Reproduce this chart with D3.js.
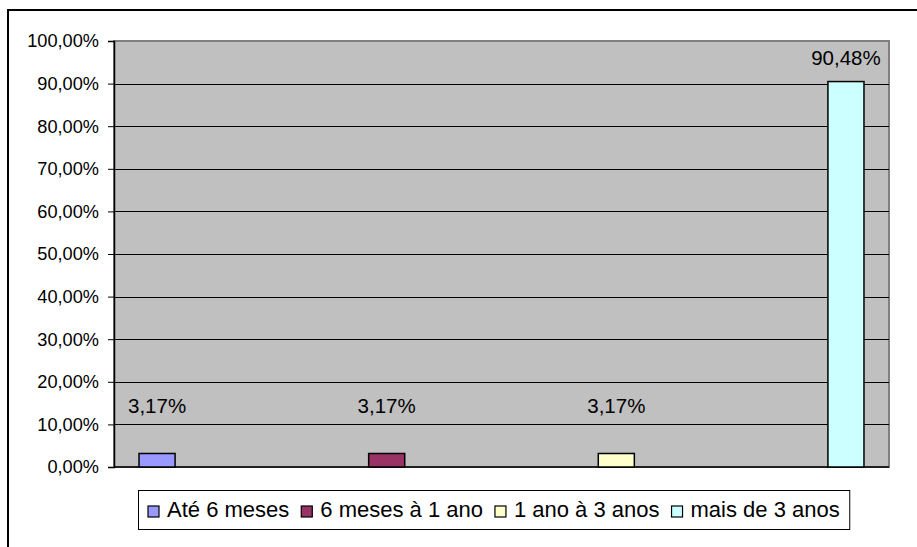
<!DOCTYPE html>
<html>
<head>
<meta charset="utf-8">
<script src="https://cdn.jsdelivr.net/npm/d3@7"></script>
<style>
  body { margin: 0; background: #fff; overflow: hidden; }
  text { font-family: "Liberation Sans", Arial, sans-serif; fill: #000; }
</style>
</head>
<body>
<svg id="chart" width="917" height="547"></svg>
<script>
//----------------------------------------------------------- DATA
var series = ["Até 6 meses", "6 meses à 1 ano", "1 ano à 3 anos", "mais de 3 anos"];
var values = [0.0317, 0.0317, 0.0317, 0.9048];
var colors = ["#9999ff", "#993366", "#ffffcc", "#ccffff"];
var yTicks = [0, 0.1, 0.2, 0.3, 0.4, 0.5, 0.6, 0.7, 0.8, 0.9, 1.0];

//----------------------------------------------------------- LAYOUT
var svg = d3.select("#chart");
var plot = {left: 114, top: 41, right: 889, bottom: 467};

var fmtPct = function(v){ return d3.format(".2f")(v*100).replace(".", ",") + "%"; };

var y = d3.scaleLinear().domain([0, 1]).range([plot.bottom, plot.top]);
var x = d3.scaleBand().domain(series)
	.range([plot.left, plot.right])
	.paddingInner(0.843)
	.paddingOuter(0.109);

// outer chart frame (runs off the page on right / bottom)
svg.append("rect")
	.attr("x", 8).attr("y", 10)
	.attr("width", 960).attr("height", 600)
	.attr("fill", "#fff")
	.attr("stroke", "#000").attr("stroke-width", 2);

// plot background
svg.append("rect")
	.attr("x", plot.left).attr("y", plot.top)
	.attr("width", plot.right - plot.left).attr("height", plot.bottom - plot.top)
	.attr("fill", "#c0c0c0")
	.attr("stroke", "#808080").attr("stroke-width", 2);

// grid lines
svg.append("g").selectAll("line").data(yTicks.slice(1, -1)).enter()
	.append("line")
	.attr("x1", plot.left).attr("x2", plot.right)
	.attr("y1", function(d){ return Math.round(y(d)) + 0.5; })
	.attr("y2", function(d){ return Math.round(y(d)) + 0.5; })
	.attr("stroke", "#000").attr("stroke-width", 1);

// y axis
var yAxis = d3.axisLeft(y).tickValues(yTicks).tickFormat(fmtPct).tickSize(6).tickPadding(9);
var gy = svg.append("g").attr("transform", "translate(" + plot.left + ",0)").call(yAxis);
gy.select(".domain").attr("stroke", "#000").attr("stroke-width", 1.5);
gy.selectAll(".tick line").attr("stroke", "#000");
gy.selectAll(".tick text")
	.style("font-family", "'Liberation Sans', Arial, sans-serif")
	.style("font-size", "18.2px")
	.attr("fill", "#000");

// x axis line
svg.append("line")
	.attr("x1", plot.left).attr("x2", plot.right)
	.attr("y1", plot.bottom).attr("y2", plot.bottom)
	.attr("stroke", "#000").attr("stroke-width", 1.5);

// bars
svg.append("g").selectAll("rect").data(series).enter()
	.append("rect")
	.attr("x", function(d){ return x(d); })
	.attr("y", function(d, i){ return y(values[i]); })
	.attr("width", x.bandwidth())
	.attr("height", function(d, i){ return y(0) - y(values[i]); })
	.attr("fill", function(d, i){ return colors[i]; })
	.attr("stroke", "#000").attr("stroke-width", 1.5);

// data labels
svg.append("g").selectAll("text").data(series).enter()
	.append("text")
	.attr("x", function(d){ return x(d) + x.bandwidth()/2; })
	.attr("y", function(d, i){ return y(Math.max(values[i], 0.088)) - 16.5; })
	.attr("text-anchor", "middle")
	.style("font-size", "20.5px")
	.text(function(d, i){ return fmtPct(values[i]); });

// legend
var legend = svg.append("g");
var lgBox = legend.append("rect")
	.attr("fill", "#fff").attr("stroke", "#000").attr("stroke-width", 1);
var cx = 148, baseY = 517;
series.forEach(function(s, i){
	legend.append("rect")
		.attr("x", cx).attr("y", 506)
		.attr("width", 11).attr("height", 11)
		.attr("fill", colors[i]).attr("stroke", "#000").attr("stroke-width", 1.2);
	var t = legend.append("text")
		.attr("x", cx + 19).attr("y", baseY)
		.style("font-size", "22px")
		.text(s);
	cx = cx + 19 + t.node().getComputedTextLength() + 12;
});
lgBox.attr("x", 138.5).attr("y", 490.5)
	.attr("width", cx - 12 + 10 - 138.5).attr("height", 39);
</script>
</body>
</html>
